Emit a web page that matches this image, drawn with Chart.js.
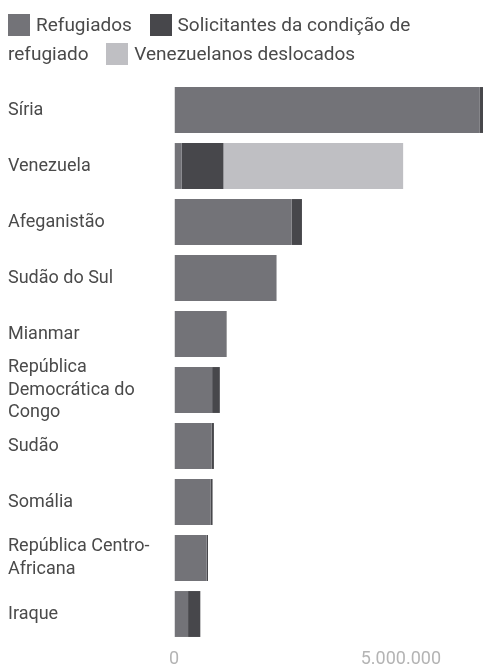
<!DOCTYPE html>
<html>
<head>
<meta charset="utf-8">
<script src="https://cdn.jsdelivr.net/npm/chart.js@4"></script>
<style>
  html, body { margin: 0; padding: 0; background: #ffffff; }
  #wrap { position: relative; width: 483px; height: 668px; }
  #legend { position: absolute; left: 8px; top: 10px; width: 472px; font-family: Roboto, sans-serif; font-size: 19px; line-height: 29px; color: #4a4a4a; }
  #legend .box { display: inline-block; width: 22px; height: 22px; vertical-align: -5px; margin-right: 6px; }
  #legend .item { margin-right: 13px; }
  canvas { position: absolute; left: 0; top: 0; }
</style>
</head>
<body>
<div id="wrap">
  <canvas id="c" width="483" height="668"></canvas>
  <div id="legend"></div>
</div>
<script>
const categories = [
  "Síria",
  "Venezuela",
  "Afeganistão",
  "Sudão do Sul",
  "Mianmar",
  ["República", "Democrática do", "Congo"],
  "Sudão",
  "Somália",
  ["República Centro-", "Africana"],
  "Iraque"
];
const seriesNames = ["Refugiados", "Solicitantes da condição de refugiado", "Venezuelanos deslocados"];
const refugiados   = [6740000, 170000, 2590000, 2260000, 1150000, 840000, 830000, 810000, 720000, 310000];
const solicitantes = [140000, 920000, 230000, 0, 10000, 170000, 50000, 40000, 30000, 270000];
const deslocados   = [0, 3960000, 0, 0, 0, 0, 0, 0, 0, 0];
const xTickValues  = [0, 5000000];
const xTickLabels  = ["0", "5.000.000"];

const colors = ["#737378", "#47474b", "#bfbfc3"];

const chart = new Chart(document.getElementById('c'), {
  type: 'bar',
  data: {
    labels: categories,
    datasets: [
      { label: seriesNames[0], data: refugiados, backgroundColor: colors[0] },
      { label: seriesNames[1], data: solicitantes, backgroundColor: colors[1] },
      { label: seriesNames[2], data: deslocados, backgroundColor: colors[2] }
    ]
  },
  options: {
    indexAxis: 'y',
    responsive: false,
    animation: false,
    maintainAspectRatio: false,
    layout: { padding: { top: 82, left: 8, right: 0, bottom: 0 } },
    datasets: { bar: { barPercentage: 0.82, categoryPercentage: 1.0, borderWidth: 0 } },
    plugins: { legend: { display: false }, tooltip: { enabled: false } },
    scales: {
      x: {
        stacked: true,
        min: 0,
        max: 6810000,
        z: 1,
        border: { display: false },
        grid: { color: 'rgba(255,255,255,0.5)', lineWidth: 1.5, drawTicks: false },
        afterBuildTicks: (scale) => { scale.ticks = xTickValues.map(v => ({ value: v })); },
        afterFit: (scale) => { scale.height = 26; },
        ticks: {
          padding: 8,
          color: '#b4b4b4',
          font: { family: 'Roboto', size: 18, lineHeight: 1 },
          callback: (v) => { const i = xTickValues.indexOf(v); return i >= 0 ? xTickLabels[i] : ''; }
        }
      },
      y: {
        stacked: true,
        border: { display: false },
        grid: { display: false, drawTicks: false },
        afterFit: (scale) => { scale.width = 166; },
        ticks: {
          autoSkip: false,
          crossAlign: 'far',
          padding: 0,
          color: '#4a4a4a',
          font: { family: 'Roboto', size: 18, lineHeight: 1.25 }
        }
      }
    }
  }
});

const leg = document.getElementById('legend');
chart.data.datasets.forEach((ds) => {
  const item = document.createElement('span');
  item.className = 'item';
  const box = document.createElement('span');
  box.className = 'box';
  box.style.background = ds.backgroundColor;
  item.appendChild(box);
  item.appendChild(document.createTextNode(ds.label));
  leg.appendChild(item);
  leg.appendChild(document.createTextNode(' '));
});
</script>
</body>
</html>
